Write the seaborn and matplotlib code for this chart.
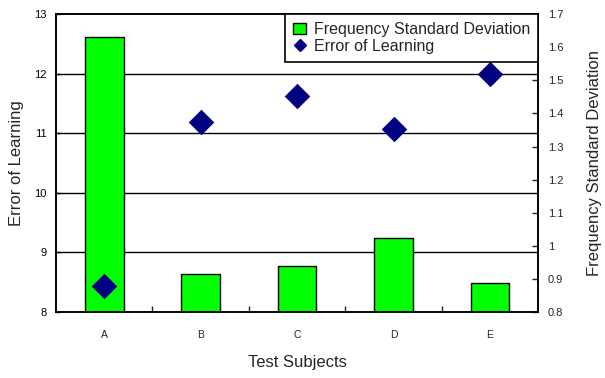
import numpy as np
import pandas as pd
import seaborn as sns
import matplotlib.pyplot as plt
from matplotlib.lines import Line2D
from matplotlib.patches import Patch
from matplotlib.ticker import FixedLocator

# data
subjects = ["A", "B", "C", "D", "E"]
freq_std = [1.631, 0.915, 0.939, 1.024, 0.887]
error_learning = [8.44, 11.19, 11.62, 11.07, 12.0]

err_lim = (8, 13)
freq_lim = (0.8, 1.7)

sns.set_style("white")
plt.rcParams['font.family'] = ['Liberation Sans', 'DejaVu Sans']

df = pd.DataFrame({"subject": subjects, "freq": freq_std, "err": error_learning})

fig = plt.figure(figsize=(6.05, 3.78), dpi=100)
ax_err = fig.add_axes([0.0926, 0.1746, 0.797, 0.788])
ax_freq = ax_err.twinx()
ax_err.set_zorder(2)
ax_err.patch.set_visible(False)
ax_freq.set_zorder(1)

# bars on the right scale
sns.barplot(data=df, x="subject", y="freq", ax=ax_freq, color="#00ff00",
            edgecolor="black", linewidth=1, width=0.4, saturation=1, zorder=2)
ax_freq.set_ylim(*freq_lim)

# horizontal grid follows the left axis ticks, drawn behind bars
for v in range(9, 13):
    yy = freq_lim[0] + (v - err_lim[0]) * (freq_lim[1] - freq_lim[0]) / (err_lim[1] - err_lim[0])
    ax_freq.axhline(yy, color="black", lw=1, zorder=0.5)

# diamonds on the left scale
sns.stripplot(data=df, x="subject", y="err", ax=ax_err, jitter=False,
              marker="D", size=13, color="#000080", linewidth=0, zorder=3)
ax_err.set_ylim(*err_lim)
ax_err.set_xlim(-0.5, 4.5)

# ticks
ax_err.set_yticks(range(8, 14))
ax_err.tick_params(axis="y", direction="in", length=3, width=1, labelsize=8, pad=7, left=True, colors="black")
ax_freq.set_yticks(np.round(np.arange(0.8, 1.71, 0.1), 1))
ax_freq.set_yticklabels([f"{t:g}" for t in np.round(np.arange(0.8, 1.71, 0.1), 1)])
ax_freq.tick_params(axis="y", direction="in", length=4, width=1, labelsize=8, pad=7, right=True)
ax_err.tick_params(axis="x", which="major", length=0, labelsize=7.5, pad=13)
ax_err.xaxis.set_minor_locator(FixedLocator([0.5, 1.5, 2.5, 3.5]))
ax_err.tick_params(axis="x", which="minor", direction="in", length=4, width=1, bottom=True)
ax_freq.tick_params(axis="x", which="both", length=0)

for a in (ax_err, ax_freq):
    for s in a.spines.values():
        s.set_color("black")
        s.set_linewidth(1.2)

ax_err.set_xlabel("Test Subjects", fontsize=12, labelpad=11)
ax_freq.set_xlabel("")
ax_err.set_ylabel("Error of Learning", fontsize=12, labelpad=7)
ax_freq.set_ylabel("Frequency Standard Deviation", fontsize=12, labelpad=17)

handles = [Patch(facecolor="#00ff00", edgecolor="black", label="Frequency Standard Deviation"),
           Line2D([], [], marker="D", color="#000080", ls="", markersize=6, label="Error of Learning")]
leg = ax_err.legend(handles=handles, loc="upper right", bbox_to_anchor=(1, 1), borderaxespad=0,
                    fancybox=False, framealpha=1, edgecolor="black", fontsize=11.5,
                    handlelength=0.8, handleheight=0.7, handletextpad=0.5, labelspacing=0.1,
                    borderpad=0.5)
leg.get_frame().set_linewidth(1.2)

fig.savefig("out.png", dpi=100)
